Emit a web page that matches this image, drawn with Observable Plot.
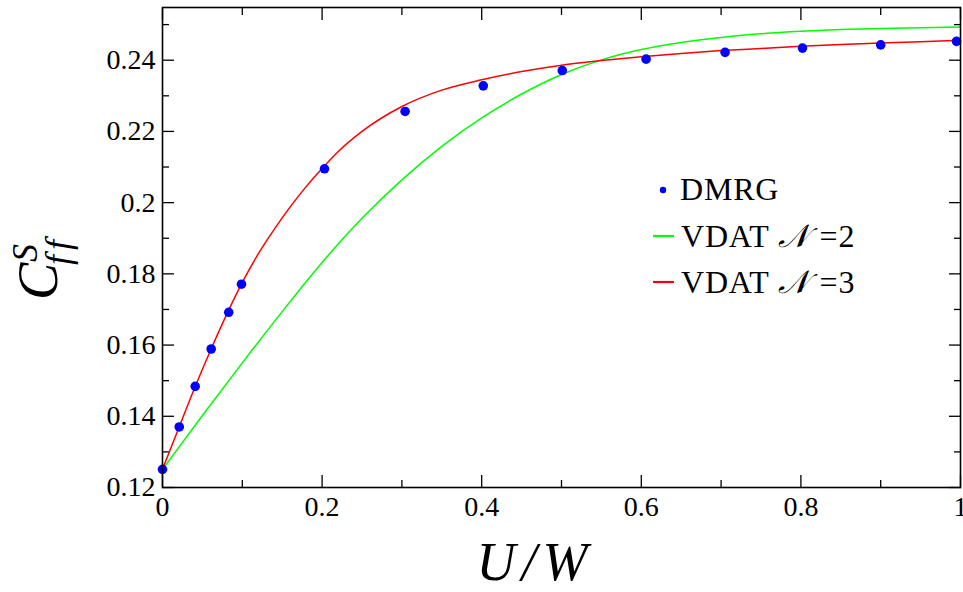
<!DOCTYPE html>
<html>
<head>
<meta charset="utf-8">
<script src="https://cdn.jsdelivr.net/npm/d3@7"></script>
<script src="https://cdn.jsdelivr.net/npm/@observablehq/plot@0.6"></script>
<style>
  body { margin: 0; background: #fff; }
  #chart svg { display: block; }
</style>
</head>
<body>
<div id="chart"></div>
<script>
// DMRG reference points
const dmrgU = [0, 0.021, 0.041, 0.061, 0.083, 0.099, 0.203, 0.304, 0.402, 0.501, 0.606, 0.705, 0.802, 0.900, 0.995];
const dmrgC = [0.1251, 0.1370, 0.1484, 0.1589, 0.1692, 0.1771, 0.2095, 0.2256, 0.2328, 0.2371, 0.2403, 0.2422, 0.2434, 0.2443, 0.2453];

// VDAT, N = 2
const vdat2U = [0, 0.05, 0.1, 0.15, 0.2, 0.25, 0.3, 0.35, 0.4, 0.45, 0.5, 0.55, 0.6, 0.65, 0.7, 0.75, 0.8, 0.85, 0.9, 0.95, 1];
const vdat2C = [0.1251, 0.1402, 0.1550, 0.1694, 0.1832, 0.1956, 0.2064, 0.2158, 0.2238, 0.2305, 0.2360, 0.2401, 0.2430, 0.2450, 0.2464, 0.2474, 0.2481, 0.2486, 0.2489, 0.2491, 0.2493];

// VDAT, N = 3
const vdat3U = [0, 0.02, 0.04, 0.06, 0.08, 0.1, 0.12, 0.14, 0.16, 0.18, 0.2, 0.22, 0.25, 0.3, 0.35, 0.4, 0.45, 0.5, 0.55, 0.6, 0.65, 0.7, 0.75, 0.8, 0.85, 0.9, 0.95, 1];
const vdat3C = [0.1251, 0.1365, 0.1478, 0.1584, 0.1684, 0.1776, 0.1856, 0.1925, 0.1988, 0.2045, 0.2096, 0.2143, 0.2200, 0.2270, 0.2316, 0.2345, 0.2368, 0.2386, 0.2399, 0.2410, 0.2419, 0.2427, 0.2433, 0.2439, 0.2444, 0.2448, 0.2452, 0.2456];

// Tick positions
const xMajorTicks = [0, 0.2, 0.4, 0.6, 0.8, 1];
const xMinorTicks = [0.1, 0.3, 0.5, 0.7, 0.9];
const yMajorTicks = [0.12, 0.14, 0.16, 0.18, 0.2, 0.22, 0.24];
const yMinorTicks = [0.13, 0.15, 0.17, 0.19, 0.21, 0.23, 0.25];

const seriesLabels = ["DMRG", "VDAT 𝒩=2", "VDAT 𝒩=3"];
const seriesColors = ["#0000ff", "#00ff00", "#ff0000"];

const dmrg = dmrgU.map((u, i) => ({u, c: dmrgC[i]}));
const vdat2 = vdat2U.map((u, i) => ({u, c: vdat2C[i]}));
const vdat3 = vdat3U.map((u, i) => ({u, c: vdat3C[i]}));

const fmt = d => String(+d.toFixed(2));
const serif = "'Liberation Serif', 'DejaVu Serif', serif";
const tickText = {fontSize: 28, fontFamily: serif, label: null, strokeWidth: 1.3};
const tickOnly = {fill: "none", label: null, strokeWidth: 1.3};

const chart = Plot.plot({
  width: 963,
  height: 592,
  marginLeft: 162,
  marginRight: 3,
  marginTop: 7,
  marginBottom: 105,
  style: {fontFamily: serif, background: "#fff", color: "#000"},
  x: {domain: [0, 1], axis: null},
  y: {domain: [0.12, 0.2548], axis: null},
  marks: [
    // bottom / left axes with labels, ticks pointing inward
    Plot.axisX(xMajorTicks, {anchor: "bottom", tickSize: -12, tickPadding: 21, tickFormat: fmt, ...tickText}),
    Plot.axisX(xMinorTicks, {anchor: "bottom", tickSize: -7, ...tickOnly}),
    Plot.axisY(yMajorTicks, {anchor: "left", tickSize: -12, tickPadding: 19, tickFormat: fmt, ...tickText}),
    Plot.axisY(yMinorTicks, {anchor: "left", tickSize: -7, ...tickOnly}),
    // mirrored ticks on top / right
    Plot.axisX(xMajorTicks, {anchor: "top", tickSize: -12, ...tickOnly}),
    Plot.axisX(xMinorTicks, {anchor: "top", tickSize: -7, ...tickOnly}),
    Plot.axisY(yMajorTicks, {anchor: "right", tickSize: -12, ...tickOnly}),
    Plot.axisY(yMinorTicks, {anchor: "right", tickSize: -7, ...tickOnly}),
    Plot.line(vdat2, {x: "u", y: "c", stroke: seriesColors[1], strokeWidth: 1.5, curve: "monotone-x"}),
    Plot.line(vdat3, {x: "u", y: "c", stroke: seriesColors[2], strokeWidth: 1.5, curve: "monotone-x"}),
    Plot.dot(dmrg, {x: "u", y: "c", r: 4.8, fill: seriesColors[0], stroke: "none"}),
    Plot.frame({stroke: "#000", strokeWidth: 1.6})
  ]
});

document.getElementById("chart").appendChild(chart);

const svg = d3.select(chart);

// y-axis title: C^S_{ff}
const yTitle = svg.append("g")
  .attr("transform", "translate(57,300) rotate(-90)")
  .attr("font-family", serif)
  .attr("font-style", "italic")
  .attr("text-anchor", "start")
  .attr("fill", "#000");
yTitle.append("text").attr("x", 0).attr("y", 0).attr("font-size", 56).text("C");
yTitle.append("text").attr("x", 38).attr("y", -20).attr("font-size", 36).text("S");
yTitle.append("text").attr("x", 35).attr("y", 13).attr("font-size", 36)
  .attr("letter-spacing", 5).style("font-variant-ligatures", "none").text("ff");

// x-axis title: U/W
svg.append("text")
  .attr("x", 535).attr("y", 580)
  .attr("text-anchor", "middle")
  .attr("font-family", serif)
  .attr("font-style", "italic")
  .attr("font-size", 54)
  .attr("letter-spacing", 6)
  .attr("fill", "#000")
  .text("U/W");

// legend
const legend = svg.append("g")
  .attr("font-family", serif)
  .attr("font-size", 32)
  .attr("letter-spacing", 0.8)
  .attr("text-anchor", "start")
  .attr("fill", "#000");
legend.append("circle").attr("cx", 663).attr("cy", 190).attr("r", 3.2).attr("fill", seriesColors[0]);
legend.append("text").attr("x", 680).attr("y", 200).text(seriesLabels[0]);
[[1, 236, 247], [2, 282, 293]].forEach(([i, ly, ty]) => {
  legend.append("line").attr("x1", 653).attr("x2", 674).attr("y1", ly).attr("y2", ly)
    .attr("stroke", seriesColors[i]).attr("stroke-width", 2.2);
  const t = legend.append("text").attr("x", 681).attr("y", ty);
  const [head, tail] = seriesLabels[i].split("𝒩");
  t.append("tspan").text(head);
  t.append("tspan").attr("font-family", "'DejaVu Serif', 'DejaVu Sans', serif").attr("font-style", "italic").text("𝒩");
  t.append("tspan").attr("dx", 10).text(tail);
});
</script>
</body>
</html>
